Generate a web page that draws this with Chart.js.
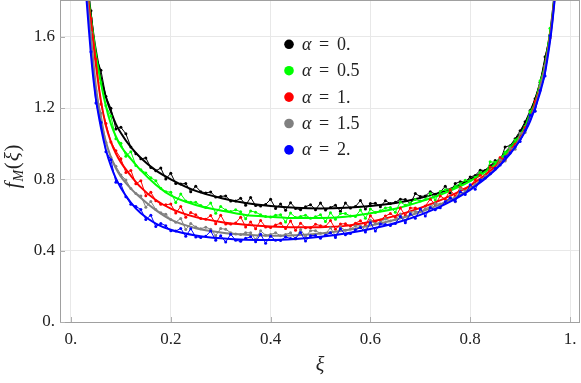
<!DOCTYPE html>
<html>
<head>
<meta charset="utf-8">
<script src="https://cdn.jsdelivr.net/npm/chart.js@4.4.1/dist/chart.umd.min.js"></script>
<style>
  html, body { margin: 0; padding: 0; background: #ffffff; }
  #wrap { width: 581px; height: 383px; }
</style>
</head>
<body>
<div id="wrap"><canvas id="chart" width="581" height="383"></canvas></div>
<script>
// Legend labels and colours
const alphaLabels = ['0.', '0.5', '1.', '1.5', '2.'];
const seriesColors = ['#000000', '#00ff00', '#ff0000', '#808080', '#0000ff'];

// Tick labels
const xTickValues = [0, 0.2, 0.4, 0.6, 0.8, 1];
const xTickLabels = ['0.', '0.2', '0.4', '0.6', '0.8', '1.'];
const yTickValues = [0, 0.4, 0.8, 1.2, 1.6];
const yTickLabels = ['0.', '0.4', '0.8', '1.2', '1.6'];

// Smooth curves
const curveX = [0.03, 0.035, 0.04, 0.045, 0.05, 0.06, 0.07, 0.08, 0.09, 0.1, 0.12, 0.14, 0.17, 0.2, 0.25, 0.3, 0.35,
  0.4, 0.45, 0.5, 0.55, 0.6, 0.65, 0.7, 0.75, 0.8, 0.85, 0.88, 0.9, 0.92, 0.94, 0.95, 0.96, 0.965, 0.97];
const curveA0 = [2.0, 1.85, 1.72, 1.61, 1.52, 1.37, 1.26, 1.18, 1.11, 1.06, 0.98, 0.92, 0.85, 0.80, 0.735, 0.695, 0.667,
  0.65, 0.64, 0.637, 0.64, 0.65, 0.667, 0.695, 0.735, 0.80, 0.89, 0.98, 1.06, 1.17, 1.34, 1.46, 1.62, 1.73, 1.87];
const curveA05 = [1.98, 1.83, 1.70, 1.60, 1.50, 1.34, 1.21, 1.11, 1.04, 0.985, 0.915, 0.85, 0.77, 0.71, 0.656, 0.625, 0.60,
  0.59, 0.583, 0.583, 0.59, 0.61, 0.635, 0.675, 0.725, 0.79, 0.885, 0.97, 1.045, 1.155, 1.325, 1.445, 1.61, 1.72, 1.86];
const curveA1 = [1.95, 1.80, 1.68, 1.56, 1.44, 1.24, 1.10, 1.01, 0.945, 0.895, 0.82, 0.755, 0.684, 0.636, 0.588, 0.561, 0.545,
  0.535, 0.531, 0.532, 0.539, 0.562, 0.595, 0.64, 0.695, 0.765, 0.87, 0.955, 1.03, 1.14, 1.31, 1.43, 1.60, 1.71, 1.85];
const curveA15 = [1.90, 1.74, 1.60, 1.45, 1.32, 1.13, 1.01, 0.925, 0.862, 0.815, 0.748, 0.695, 0.627, 0.574, 0.526, 0.502, 0.489,
  0.484, 0.487, 0.496, 0.514, 0.541, 0.573, 0.617, 0.672, 0.747, 0.857, 0.948, 1.025, 1.135, 1.30, 1.42, 1.59, 1.70, 1.84];
const curveA2 = [1.85, 1.67, 1.50, 1.36, 1.25, 1.09, 0.965, 0.875, 0.805, 0.752, 0.67, 0.61, 0.552, 0.517, 0.485, 0.469, 0.461,
  0.46, 0.466, 0.478, 0.496, 0.521, 0.555, 0.601, 0.661, 0.741, 0.852, 0.943, 1.02, 1.125, 1.285, 1.40, 1.575, 1.69, 1.83];

// Simulated samples
const sampleX = [0.04, 0.05, 0.06, 0.07, 0.08, 0.09, 0.10, 0.11, 0.12, 0.13,
  0.14, 0.15, 0.16, 0.17, 0.18, 0.19, 0.20, 0.21, 0.22, 0.23,
  0.24, 0.25, 0.26, 0.27, 0.28, 0.29, 0.30, 0.31, 0.32, 0.33,
  0.34, 0.35, 0.36, 0.37, 0.38, 0.39, 0.40, 0.41, 0.42, 0.43,
  0.44, 0.45, 0.46, 0.47, 0.48, 0.49, 0.50, 0.51, 0.52, 0.53,
  0.54, 0.55, 0.56, 0.57, 0.58, 0.59, 0.60, 0.61, 0.62, 0.63,
  0.64, 0.65, 0.66, 0.67, 0.68, 0.69, 0.70, 0.71, 0.72, 0.73,
  0.74, 0.75, 0.76, 0.77, 0.78, 0.79, 0.80, 0.81, 0.82, 0.83,
  0.84, 0.85, 0.86, 0.87, 0.88, 0.89, 0.90, 0.91, 0.92, 0.93,
  0.94, 0.95, 0.96];
const sampleA0 = [1.745, 1.49, 1.412, 1.265, 1.198, 1.082, 1.092, 1.055, 0.982, 0.943,
  0.915, 0.92, 0.866, 0.848, 0.863, 0.802, 0.834, 0.776, 0.774, 0.777,
  0.73, 0.761, 0.731, 0.724, 0.729, 0.701, 0.704, 0.707, 0.679, 0.679,
  0.694, 0.655, 0.698, 0.653, 0.651, 0.659, 0.688, 0.637, 0.661, 0.627,
  0.669, 0.637, 0.629, 0.646, 0.658, 0.630, 0.667, 0.628, 0.642, 0.655,
  0.621, 0.667, 0.639, 0.647, 0.681, 0.634, 0.664, 0.666, 0.646, 0.68,
  0.664, 0.671, 0.689, 0.687, 0.663, 0.72, 0.704, 0.707, 0.731, 0.717,
  0.729, 0.761, 0.724, 0.776, 0.787, 0.786, 0.813, 0.822, 0.851, 0.85,
  0.876, 0.906, 0.901, 0.982, 0.989, 1.028, 1.072, 1.123, 1.186, 1.252,
  1.344, 1.487, 1.61];
const sampleA05 = [1.705, 1.498, 1.342, 1.212, 1.155, 1.027, 1.003, 0.93, 0.955, 0.878,
  0.854, 0.836, 0.809, 0.792, 0.75, 0.731, 0.728, 0.67, 0.718, 0.679,
  0.672, 0.671, 0.653, 0.642, 0.667, 0.61, 0.647, 0.628, 0.619, 0.629,
  0.618, 0.579, 0.622, 0.616, 0.601, 0.592, 0.589, 0.599, 0.601, 0.561,
  0.611, 0.586, 0.592, 0.599, 0.582, 0.59, 0.601, 0.563, 0.613, 0.576,
  0.608, 0.609, 0.594, 0.592, 0.628, 0.582, 0.634, 0.614, 0.624, 0.639,
  0.642, 0.616, 0.673, 0.655, 0.667, 0.687, 0.679, 0.687, 0.721, 0.684,
  0.732, 0.741, 0.743, 0.76, 0.775, 0.795, 0.793, 0.811, 0.839, 0.825,
  0.898, 0.896, 0.918, 0.952, 0.983, 1.02, 1.048, 1.098, 1.18, 1.227,
  1.353, 1.432, 1.647];
const sampleA1 = [1.702, 1.475, 1.222, 1.113, 1.01, 0.96, 0.916, 0.838, 0.85, 0.775,
  0.792, 0.708, 0.727, 0.68, 0.66, 0.658, 0.661, 0.611, 0.647, 0.587,
  0.614, 0.601, 0.58, 0.576, 0.597, 0.551, 0.599, 0.549, 0.549, 0.555,
  0.588, 0.533, 0.561, 0.523, 0.569, 0.533, 0.53, 0.544, 0.554, 0.524,
  0.567, 0.515, 0.554, 0.529, 0.529, 0.548, 0.54, 0.536, 0.569, 0.52,
  0.55, 0.551, 0.538, 0.554, 0.568, 0.543, 0.596, 0.563, 0.572, 0.594,
  0.608, 0.587, 0.639, 0.597, 0.639, 0.639, 0.634, 0.65, 0.689, 0.658,
  0.707, 0.688, 0.741, 0.705, 0.754, 0.746, 0.759, 0.798, 0.823, 0.809,
  0.869, 0.864, 0.923, 0.908, 0.972, 0.997, 1.037, 1.09, 1.142, 1.237,
  1.317, 1.433, 1.594];
const sampleA15 = [1.623, 1.295, 1.17, 1.006, 0.923, 0.873, 0.825, 0.796, 0.748, 0.721,
  0.707, 0.644, 0.676, 0.631, 0.612, 0.604, 0.575, 0.56, 0.581, 0.518,
  0.552, 0.533, 0.523, 0.532, 0.52, 0.484, 0.524, 0.52, 0.501, 0.493,
  0.49, 0.501, 0.5, 0.462, 0.511, 0.487, 0.491, 0.5, 0.484, 0.491,
  0.5, 0.466, 0.519, 0.478, 0.512, 0.512, 0.497, 0.495, 0.528, 0.482,
  0.531, 0.514, 0.521, 0.539, 0.539, 0.515, 0.57, 0.551, 0.56, 0.578,
  0.567, 0.574, 0.605, 0.567, 0.614, 0.619, 0.62, 0.635, 0.647, 0.664,
  0.661, 0.673, 0.699, 0.675, 0.748, 0.735, 0.753, 0.772, 0.796, 0.818,
  0.832, 0.856, 0.909, 0.903, 0.975, 0.968, 1.059, 1.063, 1.155, 1.185,
  1.324, 1.438, 1.594];
const sampleA2 = [1.516, 1.228, 1.118, 0.955, 0.91, 0.784, 0.773, 0.702, 0.66, 0.648,
  0.631, 0.575, 0.599, 0.535, 0.553, 0.54, 0.511, 0.51, 0.525, 0.481,
  0.523, 0.477, 0.474, 0.481, 0.51, 0.458, 0.484, 0.448, 0.492, 0.458,
  0.453, 0.469, 0.478, 0.45, 0.492, 0.442, 0.481, 0.458, 0.457, 0.477,
  0.468, 0.469, 0.502, 0.454, 0.484, 0.485, 0.47, 0.487, 0.5, 0.474,
  0.523, 0.489, 0.496, 0.517, 0.53, 0.504, 0.556, 0.51, 0.55, 0.547,
  0.541, 0.553, 0.592, 0.557, 0.606, 0.582, 0.634, 0.594, 0.641, 0.63,
  0.641, 0.675, 0.696, 0.677, 0.73, 0.715, 0.769, 0.744, 0.796, 0.808,
  0.831, 0.861, 0.88, 0.926, 0.948, 0.982, 1.012, 1.074, 1.16, 1.182,
  1.298, 1.38, 1.605];

const curves = [curveA0, curveA05, curveA1, curveA15, curveA2];
const samples = [sampleA0, sampleA05, sampleA1, sampleA15, sampleA2];

const SERIF = '"Liberation Serif", "DejaVu Serif", serif';

function toPoints(xs, ys) {
  return xs.map((x, i) => ({ x: x, y: ys[i] }));
}

// Build datasets: samples (thin jagged line + dots) and smooth curve per alpha
function buildDatasets() {
  const datasets = [];
  seriesColors.forEach((color, i) => {
    datasets.push({
      label: 'sample ' + alphaLabels[i],
      data: toPoints(sampleX, samples[i]),
      borderColor: color,
      backgroundColor: color,
      borderWidth: 1,
      pointRadius: 1.5,
      pointBorderWidth: 0,
      pointBackgroundColor: color,
      tension: 0,
      order: 10 - i * 2
    });
    datasets.push({
      label: 'curve ' + alphaLabels[i],
      data: toPoints(curveX, curves[i]),
      borderColor: color,
      borderWidth: 2,
      pointRadius: 0,
      cubicInterpolationMode: 'monotone',
      order: 9 - i * 2
    });
  });
  return datasets;
}

// Frame, axis titles and legend
const decorPlugin = {
  id: 'decor',
  afterDraw(chart) {
    const ctx = chart.ctx;
    const a = chart.chartArea;
    const xs = chart.scales.x;
    const ys = chart.scales.y;
    ctx.save();

    // frame
    ctx.strokeStyle = '#a0a0a0';
    ctx.lineWidth = 1;
    ctx.strokeRect(Math.round(a.left) + 0.5, Math.round(a.top) - 0.5,
      Math.round(a.right - a.left) - 1, Math.round(a.bottom - a.top) + 1);

    // small inward ticks
    ctx.strokeStyle = '#b0b0b0';
    ctx.beginPath();
    xTickValues.forEach(v => {
      const px = Math.round(xs.getPixelForValue(v)) + 0.5;
      ctx.moveTo(px, a.bottom);
      ctx.lineTo(px, a.bottom - 5);
    });
    yTickValues.forEach(v => {
      const py = Math.round(ys.getPixelForValue(v)) + 0.5;
      ctx.moveTo(a.left, py);
      ctx.lineTo(a.left + 5, py);
    });
    ctx.stroke();

    ctx.fillStyle = '#222222';
    ctx.textBaseline = 'alphabetic';

    // x title
    ctx.font = 'italic 20px ' + SERIF;
    ctx.textAlign = 'center';
    ctx.fillText('ξ', 320, 371);

    // y title f_M(ξ)
    ctx.save();
    ctx.translate(19, 166);
    ctx.rotate(-Math.PI / 2);
    const parts = [
      { t: 'f', font: 'italic 21px ' + SERIF, dy: 0 },
      { t: 'M', font: 'italic 14px ' + SERIF, dy: 4 },
      { t: '(', font: '21px ' + SERIF, dy: 0 },
      { t: 'ξ', font: 'italic 21px ' + SERIF, dy: 0 },
      { t: ')', font: '21px ' + SERIF, dy: 0 }
    ];
    let total = 0;
    parts.forEach(p => { ctx.font = p.font; p.w = ctx.measureText(p.t).width + 0.8; total += p.w; });
    let cx = -total / 2;
    ctx.textAlign = 'left';
    parts.forEach(p => {
      ctx.font = p.font;
      ctx.fillText(p.t, cx, p.dy);
      cx += p.w;
    });
    ctx.restore();

    // legend
    ctx.textAlign = 'left';
    alphaLabels.forEach((lab, i) => {
      const y = 44.3 + i * 26.4;
      ctx.fillStyle = seriesColors[i];
      ctx.beginPath();
      ctx.arc(289, y, 4.8, 0, Math.PI * 2);
      ctx.fill();
      ctx.fillStyle = '#222222';
      ctx.font = 'italic 18px ' + SERIF;
      ctx.fillText('α', 302, y + 5.5);
      ctx.font = '18px ' + SERIF;
      ctx.fillText('=', 319, y + 5.5);
      ctx.fillText(lab, 337, y + 5.5);
    });

    ctx.restore();
  }
};

function createChart() {
  const ctx = document.getElementById('chart').getContext('2d');
  return new Chart(ctx, {
    type: 'line',
    data: { datasets: buildDatasets() },
    options: {
      responsive: false,
      animation: false,
      devicePixelRatio: 1,
      layout: { autoPadding: false, padding: { top: 1, right: 1, left: 0, bottom: 0 } },
      plugins: { legend: { display: false }, tooltip: { enabled: false } },
      scales: {
        x: {
          type: 'linear',
          min: -0.022,
          max: 1.02,
          afterBuildTicks: s => { s.ticks = xTickValues.map(v => ({ value: v })); },
          afterFit: s => { s.height = 61; s.paddingLeft = 0; s.paddingRight = 0; },
          ticks: {
            autoSkip: false,
            maxRotation: 0,
            padding: 7,
            color: '#222222',
            font: { family: SERIF, size: 17 },
            callback: (v, i) => xTickLabels[i]
          },
          grid: { color: '#e8e8e8', lineWidth: 1, drawTicks: false },
          border: { display: false }
        },
        y: {
          type: 'linear',
          min: 0,
          max: 1.8,
          afterBuildTicks: s => { s.ticks = yTickValues.map(v => ({ value: v })); },
          afterFit: s => { s.width = 60; s.paddingTop = 0; s.paddingBottom = 0; },
          ticks: {
            autoSkip: false,
            padding: 5,
            color: '#222222',
            font: { family: SERIF, size: 17 },
            callback: (v, i) => yTickLabels[i]
          },
          grid: { color: '#e8e8e8', lineWidth: 1, drawTicks: false },
          border: { display: false }
        }
      }
    },
    plugins: [decorPlugin]
  });
}

createChart();
</script>
</body>
</html>
